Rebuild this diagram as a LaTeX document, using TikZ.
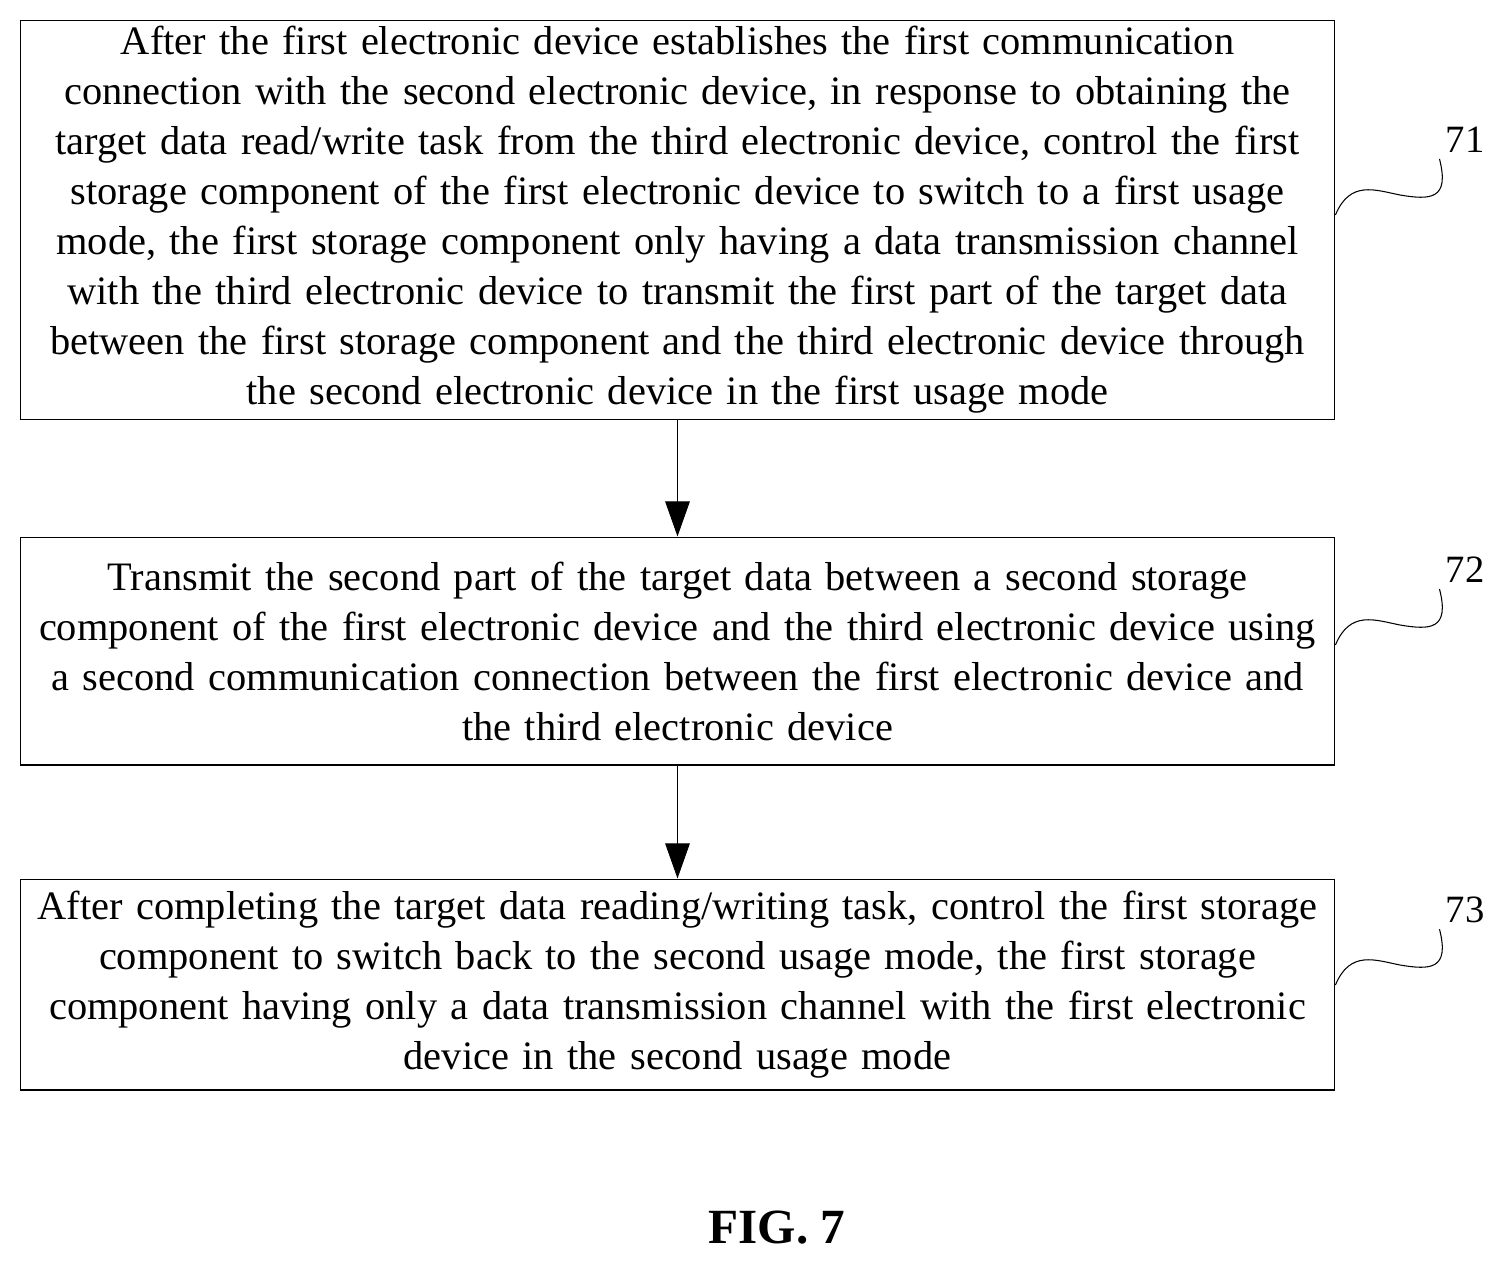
\documentclass[tikz,border=0pt]{standalone}
\usepackage{fontspec}
\setmainfont{Liberation Serif}
\usetikzlibrary{positioning,arrows.meta}
\begin{document}
\begin{tikzpicture}[x=0.02cm,y=-0.02cm,
    stepbox/.style={draw,line width=0.6pt,minimum width=26.3cm,text width=26.2cm,align=center,
      font=\fontsize{23}{28.45}\selectfont,inner sep=0pt},
    flow/.style={line width=0.6pt,-{Triangle[width=14pt,length=20pt]}},
    tag/.style={font=\fontsize{22}{26}\selectfont},
    wave/.style={line width=0.6pt}]
  \useasboundingbox (0,0) rectangle (1506,1264);
  % steps
  \node[stepbox,minimum height=8cm] (s71) at (677.5,220) {After the first electronic device establishes the first communication\\
connection with the second electronic device, in response to obtaining the\\
target data read/write task from the third electronic device, control the first\\
storage component of the first electronic device to switch to a first usage\\
mode, the first storage component only having a data transmission channel\\
with the third electronic device to transmit the first part of the target data\\
between the first storage component and the third electronic device through\\
the second electronic device in the first usage mode};
  \node[stepbox,minimum height=4.56cm] (s72) at (677.5,651) {Transmit the second part of the target data between a second storage\\
component of the first electronic device and the third electronic device using\\
a second communication connection between the first electronic device and\\
the third electronic device};
  \node[stepbox,minimum height=4.22cm] (s73) at (677.5,984.5) {After completing the target data reading/writing task, control the first storage\\
component to switch back to the second usage mode, the first storage\\
component having only a data transmission channel with the first electronic\\
device in the second usage mode};
  \draw[flow] (s71) -- (s72);
  \draw[flow] (s72) -- (s73);
  % labels
  \foreach \n/\y in {71/215,72/645,73/985}{
    \node[tag] (l\n) at (1465,\y-75) {\n};
    \coordinate (w\n) at (s71.east |- 0,\y);
    \draw[wave] (w\n) .. controls (1350,\y-35) and (1375,\y-25) .. (1400,\y-20)
      .. controls (1430,\y-15) and (1450,\y-15) .. (l\n.south west);
  }
  \node[font=\fontsize{28}{32}\selectfont\bfseries] (cap) at (777,1228) {FIG. 7};
\end{tikzpicture}
\end{document}
